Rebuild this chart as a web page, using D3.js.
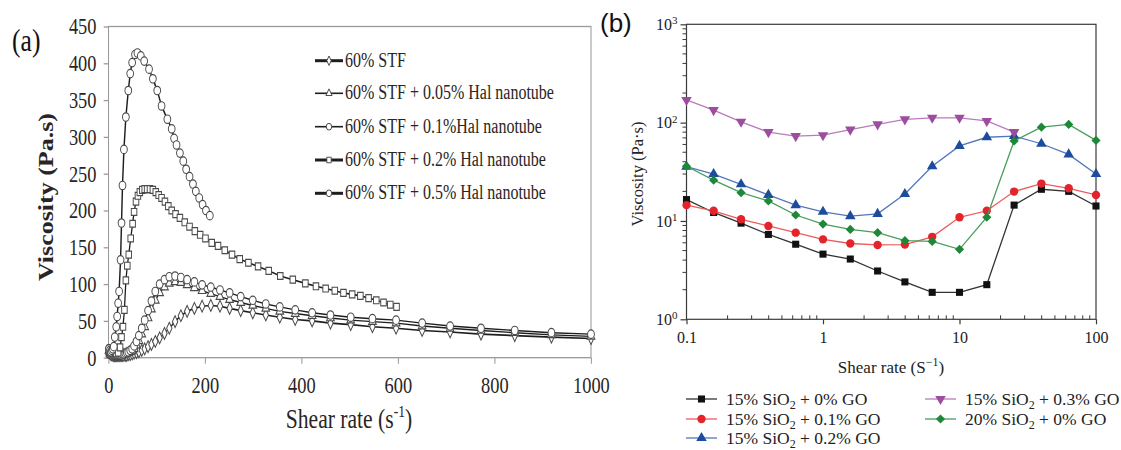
<!DOCTYPE html>
<html>
<head>
<meta charset="utf-8">
<script src="https://cdn.jsdelivr.net/npm/d3@7"></script>
<style>
  body { margin: 0; background: #fff; }
  svg { display: block; }
</style>
</head>
<body>
<main></main>
<script>
// ---- panel (a): STF + Hal nanotube ----
const rateA = [1, 2, 3, 4, 5, 6, 7, 8, 9, 10, 11,
  12.4, 13.5, 14.7, 16, 17.4, 19, 20.7, 22.6, 24.6,
  27, 29, 32, 35, 38, 41, 45, 49, 53, 58,
  63, 69, 75, 82, 89, 97, 106, 116, 126, 138,
  150, 163, 178, 194, 212, 231, 251, 274, 299, 326,
  355, 387, 422, 460, 502, 547, 596, 650, 708, 772,
  842, 918, 1000];
const stf = [9, 7, 6, 5, 5, 4, 4, 4, 4, 3, 3,
  3, 3, 3, 3, 3, 3, 3, 3, 3,
  3, 3, 3, 3, 3, 4, 4, 5, 6, 7,
  8, 10, 12, 15, 18, 22, 27, 33, 40, 49,
  57, 63, 67, 70, 71, 70, 67, 64, 61, 58,
  55, 52, 50, 47, 45, 42, 40, 37, 35, 32,
  30, 28, 26];
const hal005 = [10, 8, 6, 5, 5, 4, 4, 4, 4, 4, 4,
  4, 4, 4, 4, 4, 4, 4, 4, 4,
  4, 4, 5, 5, 6, 7, 8, 9, 12, 17,
  23, 32, 42, 54, 66, 78, 88, 96, 101, 103,
  102, 99, 95, 91, 87, 83, 79, 75, 71, 67,
  63, 60, 57, 54, 51, 49, 47, 43, 40, 37,
  34, 31, 29];
const hal01 = [12, 9, 7, 6, 5, 5, 5, 5, 4, 4, 4,
  4, 4, 4, 4, 4, 4, 4, 4, 4,
  4, 5, 5, 6, 7, 8, 10, 12, 16, 22,
  30, 40, 51, 64, 77, 90, 100, 106, 110, 111,
  109, 106, 103, 99, 96, 92, 88, 83, 78, 73,
  69, 65, 61, 58, 55, 53, 51, 47, 43, 40,
  37, 34, 32];
const rateA2 = [2, 5, 8, 12, 16, 20, 24, 27, 30, 33, 36, 39, 42, 46, 50, 53, 57, 61, 65, 70,
  75, 80, 86, 92, 98, 104, 110, 117, 124, 131, 139, 148, 158, 168, 179, 190, 201, 214, 227, 241,
  256, 272, 290, 310, 332, 356, 382, 408, 430, 450, 469, 487, 505, 522, 539, 555, 570, 584, 597];
const hal02 = [12, 10, 8, 7, 6, 7, 14, 28, 42, 65, 105, 125, 140, 162, 182, 198, 212, 220, 225, 228,
  229, 229, 229, 228, 225, 221, 217, 212, 206, 200, 195, 190, 184, 178, 172, 167, 162, 156, 152, 146,
  140, 134, 129, 124, 118, 111, 106, 101, 97, 94, 91, 88, 86, 84, 81, 78, 75, 72, 69];
const rateA5 = [1, 3, 5, 7, 9, 11, 13, 16, 18, 20, 22, 25, 27, 29, 32, 36, 41, 45, 49, 55,
  60, 67, 74, 84, 92, 101, 110, 122, 131, 136, 141, 148, 155, 161, 168, 175, 181, 188, 195, 202, 210];
const hal05 = [12, 10, 8, 10, 12, 15, 28, 42, 56, 74, 90, 133, 183, 234, 283, 327, 363, 386, 401, 412,
  414, 410, 403, 392, 379, 363, 342, 324, 311, 298, 289, 278, 267, 256, 246, 236, 226, 217, 208, 200, 193];
const namesA = ["60% STF", "60% STF + 0.05% Hal nanotube", "60% STF + 0.1%Hal nanotube",
  "60% STF + 0.2% Hal nanotube", "60% STF + 0.5% Hal nanotube"];
const ticksAx = [0, 200, 400, 600, 800, 1000];
const ticksAy = [0, 50, 100, 150, 200, 250, 300, 350, 400, 450];

// ---- panel (b): SiO2 + GO ----
const rateB = [0.1, 0.158, 0.251, 0.398, 0.631, 1, 1.585, 2.512, 3.981, 6.31, 10, 15.85, 25.12, 39.81, 63.1, 100];
const go0 = [16.5, 12.2, 9.5, 7.3, 5.8, 4.6, 4.1, 3.1, 2.4, 1.88, 1.88, 2.25, 14.5, 21, 20, 14.2];
const go01 = [14.5, 12.7, 10.4, 8.9, 7.6, 6.5, 5.9, 5.7, 5.75, 6.9, 10.9, 12.7, 19.9, 24, 21.5, 18.4];
const go02 = [35.7, 30, 23.6, 18.4, 14.5, 12.4, 11.2, 11.8, 18.8, 36, 58, 71, 73, 61, 47.5, 30];
const go03 = [170, 134, 102, 80, 73, 74.5, 85, 96, 108, 112, 112, 104, 80];
const sio20 = [36, 26, 19.4, 16, 11.5, 9.3, 8.2, 7.6, 6.3, 6.2, 5.15, 10.9, 65, 90, 96, 66];
const namesB = [["15% SiO", "2", " + 0% GO"], ["15% SiO", "2", " + 0.1% GO"], ["15% SiO", "2", " + 0.2% GO"],
  ["15% SiO", "2", " + 0.3% GO"], ["20% SiO", "2", " + 0% GO"]];
const ticksBx = [0.1, 1, 10, 100];
const ticksBy = [1, 10, 100, 1000];

const W = 1121, H = 450;
const svg = d3.select("main").append("svg").attr("width", W).attr("height", H);
const serif = "'Liberation Serif', 'Times New Roman', serif";

// ================= panel (a) =================
// the original figure is squeezed horizontally, so draw in a scaled group
const sx = 0.8;
const gA = svg.append("g").attr("transform", `scale(${sx},1)`);
const xA = d3.scaleLinear().domain([0, 1000]).range([108.5 / sx, 591 / sx]);
const yA = d3.scaleLinear().domain([0, 450]).range([357.7, 26.5]);

gA.append("rect")
  .attr("x", xA(0)).attr("y", yA(450))
  .attr("width", xA(1000) - xA(0)).attr("height", yA(0) - yA(450))
  .attr("fill", "none").attr("stroke", "#9a9a9a").attr("stroke-width", 1.3);

const axAx = gA.append("g").attr("transform", `translate(0,${yA(0)})`)
  .call(d3.axisBottom(xA).tickValues(ticksAx).tickFormat(d3.format("d"))
    .tickSize(6).tickSizeOuter(0).tickPadding(13));
const axAy = gA.append("g").attr("transform", `translate(${xA(0)},0)`)
  .call(d3.axisLeft(yA).tickValues(ticksAy).tickSize(6).tickSizeOuter(0).tickPadding(9));
[axAx, axAy].forEach(a => {
  a.attr("font-family", serif).attr("font-size", 23);
  a.select(".domain").remove();
  a.selectAll("line").attr("stroke", "#9a9a9a").attr("stroke-width", 1.3);
  a.selectAll("text").attr("fill", "#2a2522");
});

const lineA = d3.line().x(d => xA(d[0])).y(d => yA(d[1]));
const sym = (type, size) => d3.symbol().type(type).size(size)();

const seriesA = [
  { xs: rateA, ys: stf, shape: sym(d3.symbolDiamond, 40), lw: 1.6, legLw: 3 },
  { xs: rateA, ys: hal005, shape: sym(d3.symbolTriangle, 40), lw: 1.4, legLw: 1.6 },
  { xs: rateA, ys: hal01, shape: sym(d3.symbolCircle, 56), lw: 1.4, legLw: 1.6 },
  { xs: rateA2, ys: hal02, shape: sym(d3.symbolSquare, 48), lw: 1.6, legLw: 3 },
  { xs: rateA5, ys: hal05, shape: sym(d3.symbolCircle, 56), lw: 1.8, legLw: 3 }
];

seriesA.forEach(s => {
  const pts = s.xs.map((x, i) => [x, s.ys[i]]);
  gA.append("path").datum(pts)
    .attr("d", lineA).attr("fill", "none")
    .attr("stroke", "#1e1e1e").attr("stroke-width", s.lw);
  gA.append("g").selectAll("path").data(pts).enter().append("path")
    .attr("d", s.shape)
    .attr("transform", d => `translate(${xA(d[0])},${yA(d[1])})`)
    .attr("fill", "#fff").attr("stroke", "#4a4a4a").attr("stroke-width", 1.2);
});

// legend (a)
const legAy = [66.7, 99.3, 132.7, 166, 199.3];
const legA = gA.append("g");
seriesA.forEach((s, i) => {
  const y = legAy[i] - 6;
  legA.append("line").attr("x1", 315 / sx).attr("x2", 343 / sx).attr("y1", y).attr("y2", y)
    .attr("stroke", "#1e1e1e").attr("stroke-width", s.legLw);
  legA.append("path").attr("d", s.shape)
    .attr("transform", `translate(${329 / sx},${y}) scale(0.8)`)
    .attr("fill", "#fff").attr("stroke", "#333").attr("stroke-width", 1.2);
  legA.append("text").attr("x", 345 / sx).attr("y", legAy[i])
    .attr("font-family", serif).attr("font-size", 20).attr("fill", "#2a2522")
    .text(namesA[i]);
});

gA.append("text")
  .attr("transform", `translate(${46 / sx},${197}) rotate(-90)`)
  .attr("text-anchor", "middle").attr("dy", "0.35em")
  .attr("font-family", serif).attr("font-size", 26).attr("font-weight", "bold").attr("fill", "#2a2522")
  .text("Viscosity (Pa.s)");

const xlabA = gA.append("text")
  .attr("x", 349 / sx).attr("y", 428).attr("text-anchor", "middle")
  .attr("font-family", serif).attr("font-size", 27).attr("fill", "#2a2522");
xlabA.append("tspan").text("Shear rate (s");
xlabA.append("tspan").attr("dy", -11).attr("font-size", 17).text("-1");
xlabA.append("tspan").attr("dy", 11).text(")");

gA.append("text").attr("x", 12 / sx).attr("y", 51)
  .attr("font-family", serif).attr("font-size", 32).attr("fill", "#111").text("(a)");

// ================= panel (b) =================
const gB = svg.append("g");
const xB = d3.scaleLog().domain([0.1, 100]).range([686.5, 1096]);
const yB = d3.scaleLog().domain([1, 1000]).range([319.3, 24.3]);

gB.append("rect")
  .attr("x", xB(0.1)).attr("y", yB(1000))
  .attr("width", xB(100) - xB(0.1)).attr("height", yB(1) - yB(1000))
  .attr("fill", "none").attr("stroke", "#3a3a3a").attr("stroke-width", 1.2);

// minor ticks
const minorX = xB.ticks().filter(v => !ticksBx.includes(v));
const minorY = yB.ticks().filter(v => !ticksBy.includes(v));
gB.append("g").selectAll("line").data(minorX).enter().append("line")
  .attr("x1", d => xB(d)).attr("x2", d => xB(d))
  .attr("y1", yB(1)).attr("y2", yB(1) - 4)
  .attr("stroke", "#3a3a3a");
gB.append("g").selectAll("line").data(minorY).enter().append("line")
  .attr("x1", xB(0.1)).attr("x2", xB(0.1) - 4)
  .attr("y1", d => yB(d)).attr("y2", d => yB(d))
  .attr("stroke", "#3a3a3a");

const axBx = gB.append("g").attr("transform", `translate(0,${yB(1)})`)
  .call(d3.axisBottom(xB).tickValues(ticksBx).tickFormat(d => String(d)).tickSize(5).tickSizeOuter(0).tickPadding(7));
const axBy = gB.append("g").attr("transform", `translate(${xB(0.1)},0)`)
  .call(d3.axisLeft(yB).tickValues(ticksBy).tickSize(6).tickSizeOuter(0).tickPadding(3));
[axBx, axBy].forEach(a => {
  a.attr("font-family", serif).attr("font-size", 16);
  a.select(".domain").remove();
  a.selectAll("line").attr("stroke", "#3a3a3a").attr("stroke-width", 1.2);
  a.selectAll("text").attr("fill", "#222");
});
axBy.selectAll("text").text(null).each(function (d) {
  const t = d3.select(this);
  t.append("tspan").text("10");
  t.append("tspan").attr("dy", "-0.5em").attr("font-size", 11).text(Math.round(Math.log10(d)));
});

const seriesB = [
  { ys: go0, color: "#111111", line: "#333333", shape: sym(d3.symbolSquare, 50), rot: 0 },
  { ys: go01, color: "#e3242b", line: "#ee5a5a", shape: sym(d3.symbolCircle, 55), rot: 0 },
  { ys: go02, color: "#1d4b9e", line: "#5277bb", shape: sym(d3.symbolTriangle, 48), rot: 0 },
  { ys: go03, color: "#9c4d9f", line: "#b87cbb", shape: sym(d3.symbolTriangle, 48), rot: 180 },
  { ys: sio20, color: "#1e8838", line: "#4a9d5c", shape: sym(d3.symbolSquare, 42), rot: 45 }
];
const lineB = d3.line().x(d => xB(d[0])).y(d => yB(d[1]));
seriesB.forEach(s => {
  const pts = s.ys.map((v, i) => [rateB[i], v]);
  gB.append("path").datum(pts).attr("d", lineB)
    .attr("fill", "none").attr("stroke", s.line).attr("stroke-width", 1.3);
  gB.append("g").selectAll("path").data(pts).enter().append("path")
    .attr("d", s.shape)
    .attr("transform", d => `translate(${xB(d[0])},${yB(d[1])}) rotate(${s.rot})`)
    .attr("fill", s.color);
});

gB.append("text")
  .attr("transform", `translate(637,174) rotate(-90)`)
  .attr("text-anchor", "middle").attr("dy", "0.35em")
  .attr("font-family", serif).attr("font-size", 16.5).attr("fill", "#222")
  .text("Viscosity (Pa\u00b7s)");

const xlabB = gB.append("text").attr("x", 891).attr("y", 373).attr("text-anchor", "middle")
  .attr("font-family", serif).attr("font-size", 17).attr("fill", "#222");
xlabB.append("tspan").text("Shear rate (S");
xlabB.append("tspan").attr("dy", -7).attr("font-size", 12).text("\u22121");
xlabB.append("tspan").attr("dy", 7).text(")");

// legend (b)
const legPos = [[686, 405], [686, 425], [686, 444], [925, 405], [925, 425]];
seriesB.forEach((s, i) => {
  const [lx, ly] = legPos[i];
  const cy = ly - 6;
  gB.append("line").attr("x1", lx).attr("x2", lx + 31).attr("y1", cy).attr("y2", cy)
    .attr("stroke", s.line).attr("stroke-width", 1.3);
  gB.append("path").attr("d", s.shape)
    .attr("transform", `translate(${lx + 15.5},${cy}) rotate(${s.rot})`)
    .attr("fill", s.color);
  const t = gB.append("text").attr("x", lx + 40).attr("y", ly)
    .attr("font-family", serif).attr("font-size", 17.5).attr("fill", "#222");
  t.append("tspan").text(namesB[i][0]);
  t.append("tspan").attr("dy", 4).attr("font-size", 12).text(namesB[i][1]);
  t.append("tspan").attr("dy", -4).text(namesB[i][2]);
});

svg.append("text").attr("x", 600).attr("y", 32)
  .attr("font-family", "'Liberation Sans', Arial, sans-serif").attr("font-size", 26).attr("fill", "#111")
  .text("(b)");
</script>
</body>
</html>
